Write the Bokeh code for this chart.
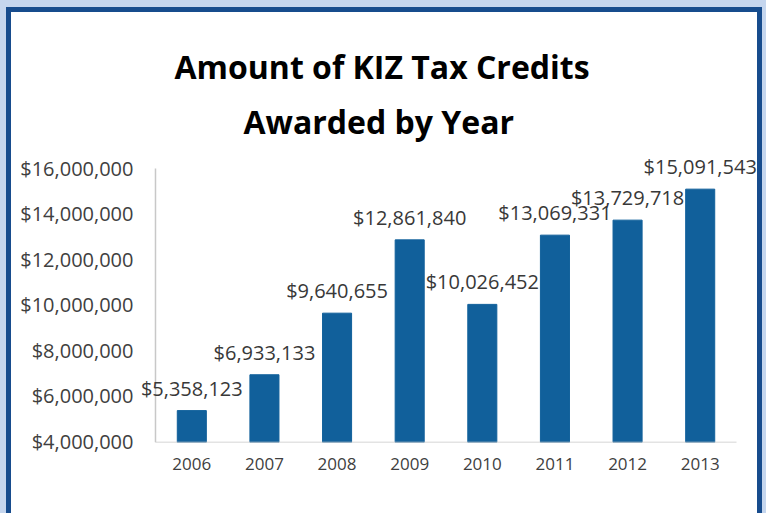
from bokeh.plotting import figure
from bokeh.models import Range1d, FixedTicker, NumeralTickFormatter, Title, ColumnDataSource, LabelSet
from bokeh.layouts import column
from bokeh.embed import file_html
from bokeh.resources import INLINE
from bokeh.core.properties import value

years = [2006, 2007, 2008, 2009, 2010, 2011, 2012, 2013]
credits = [5358123, 6933133, 9640655, 12861840, 10026452, 13069331, 13729718, 15091543]
y_ticks = [4000000, 6000000, 8000000, 10000000, 12000000, 14000000, 16000000]
title_line1 = "Amount of KIZ Tax Credits"
title_line2 = "Awarded by Year"

labels = ["${:,}".format(v) for v in credits]
src = ColumnDataSource(dict(year=years, credit=credits, label=labels))

FONT = "Open Sans"
BAR = "#11609b"
AXIS = "#c8c8c8"
W, H = 746, 501
Y0 = 3956000
x_lo, x_hi = min(years) - 0.5, max(years) + 0.5

p = figure(x_range=Range1d(x_lo - 0.2065, x_hi + 0.289), y_range=Range1d(Y0, 16790000),
           width=W, height=H, output_backend="svg", toolbar_location=None,
           min_border_left=129, min_border_right=0, min_border_bottom=71, min_border_top=138)
p.title.visible = False

p.vbar(x="year", top="credit", bottom=Y0 - 50000, width=0.4, source=src,
       fill_color=BAR, line_color=BAR)
# axis lines limited to the category span / tick span
p.segment(x0=[x_lo, x_lo], y0=[Y0, Y0], x1=[x_lo, x_hi], y1=[max(y_ticks), Y0],
          line_color=AXIS, line_width=1.5)

lbls = LabelSet(x="year", y="credit", text="label", source=src, text_align="center",
                text_baseline="alphabetic", y_offset=15, text_font_size="20px",
                text_color="#383838", text_font=value(FONT))
p.add_layout(lbls)

t2 = Title(text=title_line2, align="left", offset=103, text_font=FONT,
           text_font_size="32px", text_font_style="bold", text_color="#000000", standoff=15)
t1 = Title(text=title_line1, align="left", offset=34, text_font=FONT,
           text_font_size="32px", text_font_style="bold", text_color="#000000", standoff=5)
p.add_layout(t2, "above")
p.add_layout(t1, "above")

p.yaxis.ticker = FixedTicker(ticks=y_ticks)
p.yaxis.formatter = NumeralTickFormatter(format="$0,0")
p.xaxis.ticker = FixedTicker(ticks=years)
p.xaxis.formatter = NumeralTickFormatter(format="0")
for ax in (p.xaxis[0], p.yaxis[0]):
    ax.axis_line_color = None
    ax.major_tick_line_color = None
    ax.minor_tick_line_color = None
    ax.major_tick_out = 0
    ax.major_tick_in = 0
    ax.major_label_text_font = FONT
    ax.major_label_text_color = "#404040"
p.yaxis.major_label_text_font_size = "20px"
p.yaxis.major_label_standoff = 7
p.xaxis.major_label_text_font_size = "17px"
p.xaxis.major_label_standoff = 15

p.xgrid.grid_line_color = None
p.ygrid.grid_line_color = None
p.outline_line_color = None
p.background_fill_color = None
p.border_fill_color = "white"

LB = "#c5d6ee"
DB = "#174c8d"
inner = column(p, styles={
    "border-top": f"5px solid {DB}",
    "border-left": f"5px solid {DB}",
    "border-right": f"5px solid {DB}",
    "background-color": "white",
})
outer = column(inner, styles={
    "background-color": LB,
    "padding": "7px 4px 0px 6px",
})

open("out.html", "w").write(file_html(outer, INLINE))
